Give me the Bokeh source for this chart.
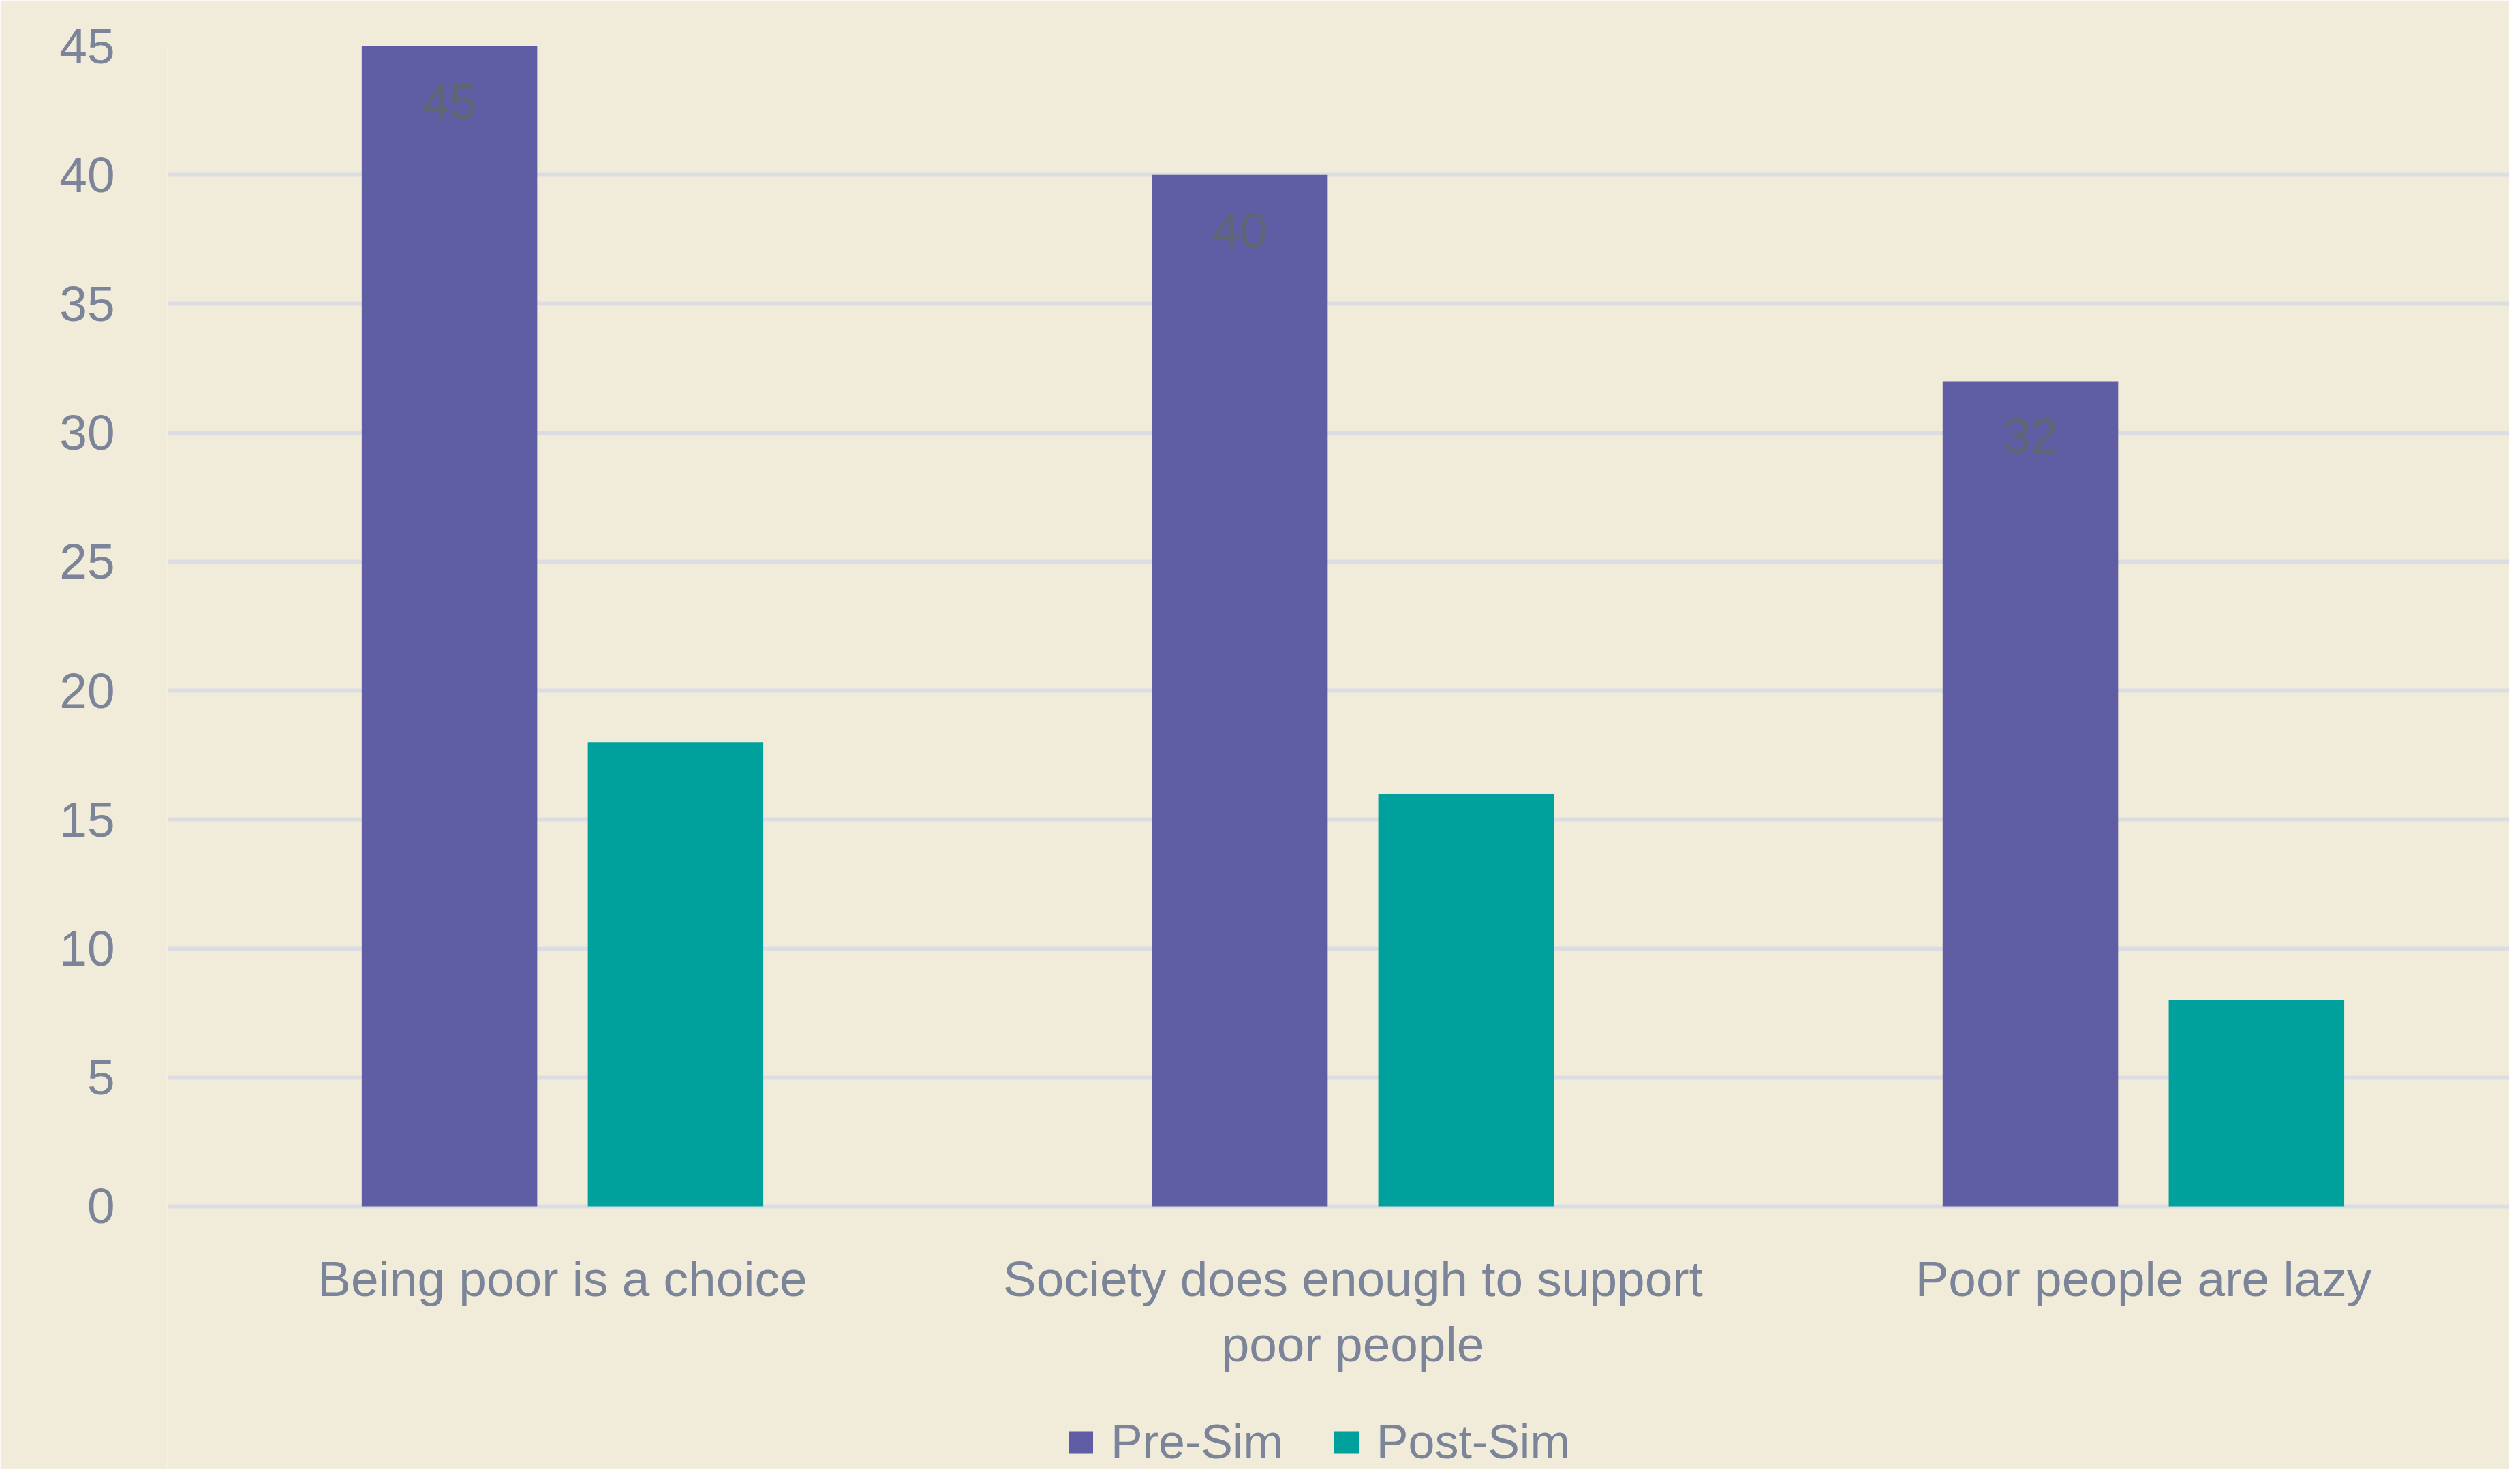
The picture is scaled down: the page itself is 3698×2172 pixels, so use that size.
from bokeh.plotting import figure
from bokeh.models import (ColumnDataSource, Range1d, FixedTicker, Legend, LegendItem)
from bokeh.core.properties import value
from bokeh.embed import file_html
from bokeh.resources import INLINE

categories = ["Being poor is a choice", "Society does enough to support\npoor people", "Poor people are lazy"]
pre_sim = [45, 40, 32]
post_sim = [18, 16, 8]
series_names = ["Pre-Sim", "Post-Sim"]
y_ticks = [0, 5, 10, 15, 20, 25, 30, 35, 40, 45]

BG = "#F1ECDA"
PRE_C = "#5F5DA3"
POST_C = "#00A19C"
TXT = "#7B8498"
GRID = "#DCDDE3"
FONT = "Liberation Sans"

centers = [i + 0.5 for i in range(len(categories))]
OFF = 0.143
BW = 0.222

src = ColumnDataSource(dict(
    xpre=[c - OFF for c in centers],
    xpost=[c + OFF for c in centers],
    pre=pre_sim,
    post=post_sim,
    pre_lbl=[str(v) for v in pre_sim],
))
cat_src = ColumnDataSource(dict(x=centers, y=[0] * len(centers), label=categories))

# frame spans to the bottom of the figure; values below 0 hold the category labels and legend
p = figure(width=3682, height=2156, output_backend="svg", toolbar_location=None,
           x_range=Range1d(0, 2.963), y_range=Range1d(-10.2, 45),
           min_border_left=245, min_border_right=0, min_border_top=67, min_border_bottom=0)
p.background_fill_color = BG
p.border_fill_color = BG
p.outline_line_color = None

r_pre = p.vbar(x="xpre", top="pre", width=BW, bottom=0, source=src, fill_color=PRE_C, line_color=None)
r_post = p.vbar(x="xpost", top="post", width=BW, bottom=0, source=src, fill_color=POST_C, line_color=None)

p.text(x="xpre", y="pre", text="pre_lbl", source=src, text_align="center", text_baseline="top",
       y_offset=56, text_color="#5E6672", text_font=value(FONT), text_font_size="72px")

# category labels under the bars
p.text(x="x", y="y", text="label", source=cat_src, text_align="center", text_baseline="top",
       y_offset=66, text_color=TXT, text_font=value(FONT), text_font_size="73px",
       text_line_height=1.18)

p.xaxis.visible = False
p.xgrid.visible = False
p.ygrid.grid_line_color = GRID
p.ygrid.grid_line_width = 6
p.ygrid.ticker = FixedTicker(ticks=y_ticks)

yax = p.yaxis[0]
yax.ticker = FixedTicker(ticks=y_ticks)
yax.axis_line_color = None
yax.major_tick_line_color = None
yax.minor_tick_line_color = None
yax.major_tick_out = 0
yax.major_tick_in = 0
yax.major_label_text_color = TXT
yax.major_label_text_font = FONT
yax.major_label_text_font_size = "73px"
yax.major_label_standoff = 77

legend = Legend(items=[LegendItem(label=series_names[0], renderers=[r_pre]),
                       LegendItem(label=series_names[1], renderers=[r_post])],
                orientation="horizontal", location=(1318, 0),
                glyph_width=45, glyph_height=41, label_height=41, label_standoff=22,
                spacing=70, padding=0, margin=0,
                label_text_font=FONT, label_text_font_size="70px", label_text_color=TXT,
                background_fill_alpha=0, border_line_color=None)
p.add_layout(legend, "center")

open("out.html", "w").write(file_html(p, INLINE))
